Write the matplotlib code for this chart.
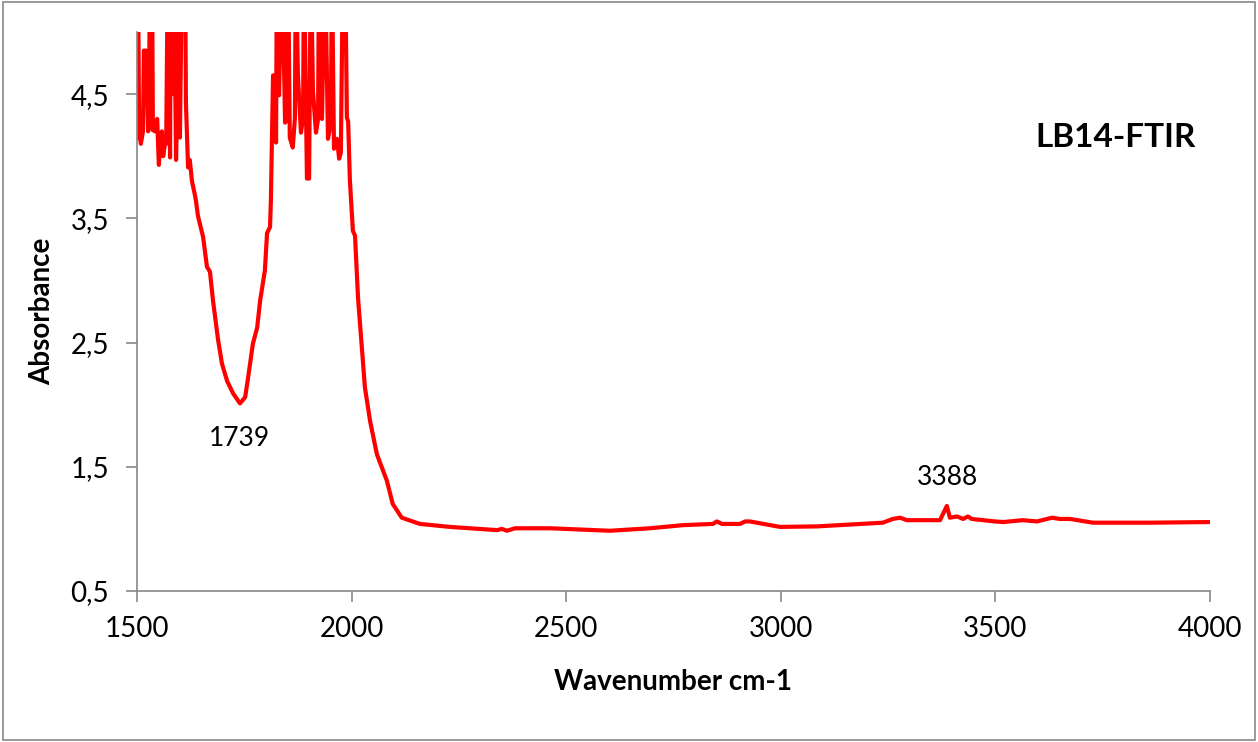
import matplotlib
matplotlib.use("Agg")
import matplotlib.pyplot as plt
from matplotlib.patches import Rectangle
from matplotlib.ticker import FixedLocator

# FTIR spectrum LB14 (>5 means off the top)
wavenumber = [
    1500, 1502, 1505, 1509, 1514, 1516, 1521, 1526, 1528, 1530, 1535, 1537,
    1542, 1547, 1551, 1554, 1558, 1561, 1565, 1568, 1572, 1577, 1579, 1582,
    1584, 1586, 1591, 1593, 1596, 1600, 1605, 1612, 1614, 1619, 1623, 1628,
    1633, 1637, 1642, 1654, 1663, 1670, 1677, 1689, 1698, 1710, 1724, 1740,
    1752, 1759, 1770, 1780, 1787, 1798, 1803, 1810, 1812, 1817, 1822, 1824,
    1826, 1831, 1838, 1845, 1849, 1852, 1856, 1863, 1868, 1870, 1875, 1882,
    1887, 1889, 1896, 1901, 1905, 1910, 1917, 1922, 1924, 1931, 1938, 1945,
    1952, 1954, 1959, 1966, 1971, 1975, 1980, 1985, 1989, 1992, 1996, 2003,
    2008, 2015, 2024, 2031, 2043, 2059, 2082, 2096, 2117, 2159, 2229, 2339,
    2350, 2362, 2381, 2462, 2602, 2695, 2772, 2842, 2851, 2863, 2905, 2917,
    2928, 2998, 3084, 3238, 3261, 3278, 3294, 3371, 3387, 3394, 3411, 3425,
    3436, 3445, 3499, 3518, 3564, 3597, 3632, 3650, 3674, 3727, 3860, 4000,
]
absorbance = [
    4.15, 5.6, 4.2, 4.1, 4.2, 4.85, 4.85, 4.2, 4.25, 5.6, 5.6, 4.21,
    4.2, 4.3, 3.93, 4.1, 4.2, 4.0, 4.1, 4.1, 5.6, 3.99, 5.6, 4.85,
    4.5, 5.6, 3.97, 4.3, 5.6, 4.15, 5.6, 5.6, 4.43, 3.91, 3.97, 3.8,
    3.72, 3.65, 3.52, 3.35, 3.11, 3.07, 2.84, 2.52, 2.33, 2.19, 2.09, 2.01,
    2.06, 2.22, 2.49, 2.62, 2.84, 3.08, 3.38, 3.43, 3.65, 4.65, 4.65, 4.11,
    5.6, 4.49, 5.6, 4.27, 4.3, 5.6, 4.15, 4.07, 4.31, 5.6, 4.65, 4.19,
    4.31, 5.6, 3.82, 3.82, 5.6, 4.52, 4.19, 4.3, 5.6, 4.3, 5.6, 4.14,
    4.27, 5.6, 4.06, 4.14, 3.98, 4.03, 5.6, 5.6, 4.31, 4.28, 3.81, 3.40,
    3.36, 2.86, 2.46, 2.14, 1.87, 1.60, 1.39, 1.20, 1.09, 1.04, 1.016, 0.99,
    1.0, 0.985, 1.005, 1.005, 0.985, 1.005, 1.03, 1.04, 1.06, 1.04, 1.04, 1.06,
    1.06, 1.016, 1.02, 1.05, 1.08, 1.09, 1.07, 1.07, 1.185, 1.09, 1.1, 1.08,
    1.1, 1.08, 1.06, 1.055, 1.07, 1.06, 1.09, 1.08, 1.08, 1.05, 1.05, 1.055,
]

x_ticks = [1500, 2000, 2500, 3000, 3500, 4000]
y_ticks = [0.5, 1.5, 2.5, 3.5, 4.5]
y_tick_labels = ["0,5", "1,5", "2,5", "3,5", "4,5"]
peak_labels = [("1739", 1739, 1.73), ("3388", 3388, 1.41)]

plt.rcParams["font.family"] = ["Lato", "DejaVu Sans"]

fig = plt.figure(figsize=(12.58, 7.42), dpi=100)
ax = fig.add_axes([0.1089, 0.2035, 0.8529, 0.7534])

ax.plot(wavenumber, absorbance, color="#ff0000", lw=3, solid_joinstyle="round")

ax.set_xlim(1500, 4000)
ax.set_ylim(0.5, 5.0)
ax.xaxis.set_major_locator(FixedLocator(x_ticks))
ax.set_yticks(y_ticks)
ax.set_yticklabels(y_tick_labels)

for side in ["top", "right"]:
    ax.spines[side].set_visible(False)
for side in ["left", "bottom"]:
    ax.spines[side].set_color("#888888")
    ax.spines[side].set_linewidth(1.2)
ax.tick_params(axis="both", direction="out", length=8, width=1.2,
               color="#888888", labelsize=20, pad=6)
ax.tick_params(axis="x", pad=10)
ax.tick_params(axis="y", pad=12)

ax.set_xlabel("Wavenumber cm-1", fontsize=20, fontweight="bold")
ax.set_ylabel("Absorbance", fontsize=20, fontweight="bold")
ax.xaxis.set_label_coords(0.5, -0.163)
ax.yaxis.set_label_coords(-0.0885, 0.5)
ax.xaxis.label.set_va("center")
ax.yaxis.label.set_va("center")

for txt, xv, yv in peak_labels:
    ax.text(xv, yv, txt, fontsize=19, ha="center", va="center")

ax.text(0.912, 0.812, "LB14-FTIR", transform=ax.transAxes, fontsize=24,
        fontweight="bold", ha="center", va="center")

# outer chart border like an Excel chart area
fig.patches.append(Rectangle((0.002, 0.003), 0.996, 0.994, transform=fig.transFigure,
                             fill=False, edgecolor="#888888", lw=1.2))

fig.savefig("out.png", dpi=100)
